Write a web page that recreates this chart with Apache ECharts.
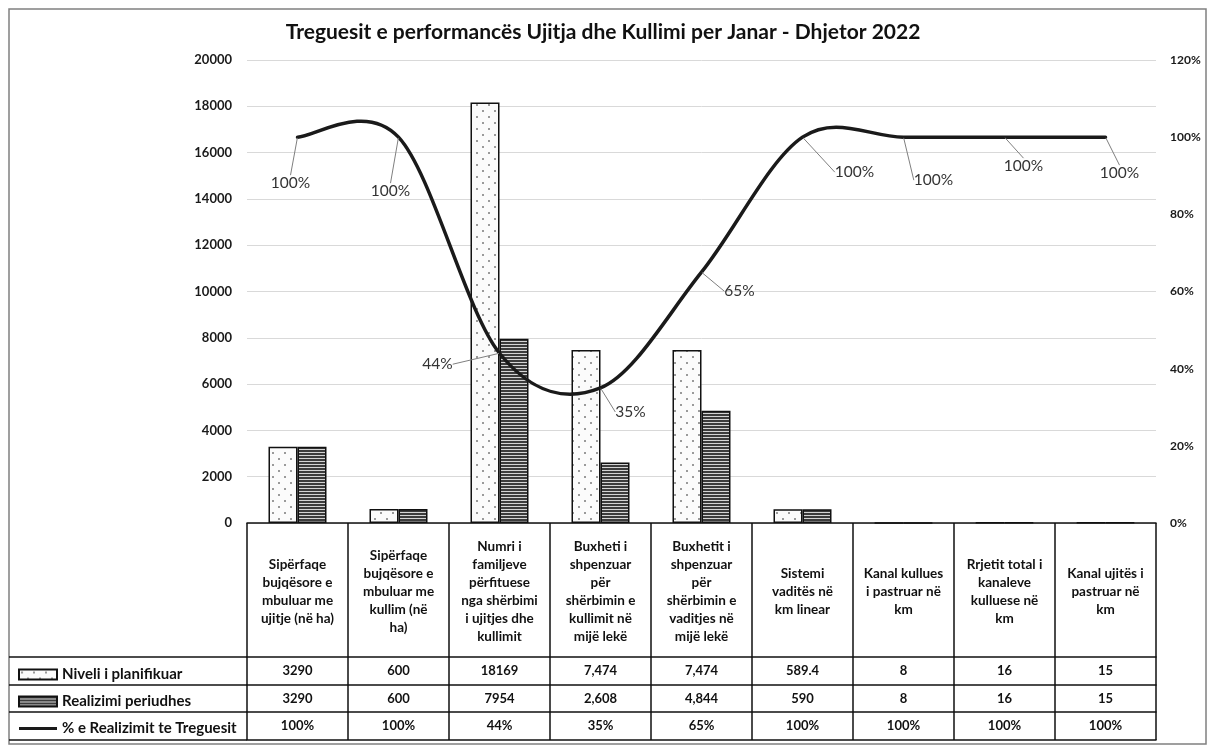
<!DOCTYPE html>
<html>
<head>
<meta charset="utf-8">
<title>Treguesit e performancës Ujitja dhe Kullimi</title>
<script src="https://cdn.jsdelivr.net/npm/echarts@6/dist/echarts.min.js"></script>
<style>
  html, body { margin: 0; padding: 0; background: #fff; }
  #chart { width: 1211px; height: 749px; }
</style>
</head>
<body>
<div id="chart"></div>
<script>
// kategoritë (rreshti i kokës së tabelës)
const categories = [
  'Sipërfaqe\nbujqësore e\nmbuluar me\nujitje (në ha)',
  'Sipërfaqe\nbujqësore e\nmbuluar me\nkullim (në\nha)',
  'Numri i\nfamiljeve\npërfituese\nnga shërbimi\ni ujitjes dhe\nkullimit',
  'Buxheti i\nshpenzuar\npër\nshërbimin e\nkullimit në\nmijë lekë',
  'Buxhetit i\nshpenzuar\npër\nshërbimin e\nvaditjes në\nmijë lekë',
  'Sistemi\nvaditës në\nkm linear',
  'Kanal kullues\ni pastruar në\nkm',
  'Rrjetit total i\nkanaleve\nkulluese në\nkm',
  'Kanal ujitës i\npastruar në\nkm'
];

const seriesNames = ['Niveli i planifikuar', 'Realizimi periudhes', '% e Realizimit te Treguesit'];

const planned = [3290, 600, 18169, 7474, 7474, 589.4, 8, 16, 15];
const realized = [3290, 600, 7954, 2608, 4844, 590, 8, 16, 15];
const pctRealized = [100, 100, 44, 35, 65, 100, 100, 100, 100];

// tekstet e tabelës së të dhënave
const plannedLabels = ['3290', '600', '18169', '7,474', '7,474', '589.4', '8', '16', '15'];
const realizedLabels = ['3290', '600', '7954', '2,608', '4,844', '590', '8', '16', '15'];
const pctLabels = pctRealized.map(v => v + '%');

// boshtet
const leftAxis = { min: 0, max: 20000, interval: 2000 };
const rightAxis = { min: 0, max: 120, interval: 20 };

const FONT = 'Lato, "Open Sans", sans-serif';

// zhvendosja e etiketave të vijës (si në Excel, me vija udhëzuese)
const labelOffsets = [
  [-7, 46], [-8, 54], [-62, 11], [30, 24], [38, 19],
  [52, 35], [30, 43], [19, 29], [14, 36]
];

function makeDots() {
  const c = document.createElement('canvas');
  c.width = 12; c.height = 12;
  const g = c.getContext('2d');
  g.fillStyle = '#fbfbfb';
  g.fillRect(0, 0, 12, 12);
  g.fillStyle = '#7a7a7a';
  g.beginPath(); g.arc(3, 3, 1, 0, Math.PI * 2); g.fill();
  g.beginPath(); g.arc(9, 9, 1, 0, Math.PI * 2); g.fill();
  return c;
}

function makeStripes() {
  const c = document.createElement('canvas');
  c.width = 4; c.height = 3;
  const g = c.getContext('2d');
  g.fillStyle = '#3c3c3c';
  g.fillRect(0, 0, 4, 2);
  g.fillStyle = '#d4d4d4';
  g.fillRect(0, 2, 4, 1);
  return c;
}

const dotFill = { image: makeDots(), repeat: 'repeat' };
const stripeFill = { image: makeStripes(), repeat: 'repeat' };

// vija e lëmuar si në Excel (Catmull-Rom), nga pikat e boshtit
function renderSmoothLine(params, api) {
  if (params.dataIndex !== 0) return null;
  const pts = pctRealized.map((v, i) => api.coord([i, v]));
  const n = pts.length;
  let d = 'M' + pts[0][0] + ' ' + pts[0][1];
  for (let i = 0; i < n - 1; i++) {
    const p0 = pts[Math.max(i - 1, 0)];
    const p1 = pts[i];
    const p2 = pts[i + 1];
    const p3 = pts[Math.min(i + 2, n - 1)];
    const c1x = p1[0] + (p2[0] - p0[0]) / 6, c1y = p1[1] + (p2[1] - p0[1]) / 6;
    const c2x = p2[0] - (p3[0] - p1[0]) / 6, c2y = p2[1] - (p3[1] - p1[1]) / 6;
    d += ' C' + c1x + ' ' + c1y + ' ' + c2x + ' ' + c2y + ' ' + p2[0] + ' ' + p2[1];
  }
  return {
    type: 'path',
    shape: { pathData: d },
    style: { fill: null, stroke: '#1a1a1a', lineWidth: 3.5, lineJoin: 'round', lineCap: 'round' }
  };
}

const chart = echarts.init(document.getElementById('chart'), null, { renderer: 'canvas' });

// rreshtat e tabelës poshtë grafikut
const tableTop = 523;
const rowLines = [134, 162, 189, 217];

function tableAxis(offset, labels) {
  return {
    type: 'category',
    gridIndex: 0,
    position: 'bottom',
    offset: offset,
    data: categories,
    axisLine: { show: true, onZero: false, lineStyle: { color: '#111', width: 1.5 } },
    axisTick: { show: false },
    axisLabel: {
      show: !!labels,
      interval: 0,
      margin: 14,
      verticalAlign: 'middle',
      color: '#111',
      fontFamily: FONT,
      fontWeight: 'bold',
      fontSize: 13,
      formatter: (v, i) => labels ? labels[i] : ''
    }
  };
}

const option = {
  backgroundColor: '#fff',
  animation: false,
  title: {
    text: 'Treguesit e performancës Ujitja dhe Kullimi per Janar - Dhjetor 2022',
    left: 598,
    textAlign: 'center',
    top: 17,
    textStyle: { fontFamily: FONT, fontWeight: 'bold', fontSize: 21, color: '#111' }
  },
  legend: {
    orient: 'vertical',
    left: 13,
    top: 661,
    itemWidth: 38,
    itemHeight: 10,
    itemGap: 10,
    selectedMode: false,
    textStyle: { fontFamily: FONT, fontWeight: 'bold', fontSize: 15, color: '#111', lineHeight: 17 },
    data: [
      { name: seriesNames[0], icon: 'rect' },
      { name: seriesNames[1], icon: 'rect' },
      { name: seriesNames[2], icon: 'path://M0,0 L40,0 L40,3 L0,3 Z', itemStyle: { color: '#1a1a1a', opacity: 1 } }
    ]
  },
  grid: { left: 247, right: 55, top: 60, bottom: 749 - tableTop, containLabel: false },
  xAxis: [
    {
      type: 'category',
      data: categories,
      axisLine: { show: true, onZero: false, lineStyle: { color: '#111', width: 1.5 } },
      axisTick: { show: true, length: rowLines[3], lineStyle: { color: '#111', width: 1.5 } },
      axisLabel: {
        interval: 0,
        margin: 69,
        verticalAlign: 'middle',
        lineHeight: 18,
        color: '#111',
        fontFamily: FONT,
        fontWeight: 'bold',
        fontSize: 13.5
      }
    },
    tableAxis(rowLines[0], plannedLabels),
    tableAxis(rowLines[1], realizedLabels),
    tableAxis(rowLines[2], pctLabels),
    tableAxis(rowLines[3], null)
  ],
  yAxis: [
    {
      type: 'value',
      min: leftAxis.min, max: leftAxis.max, interval: leftAxis.interval,
      axisLine: { show: false },
      axisTick: { show: false },
      axisLabel: { margin: 15, color: '#1a1a1a', fontFamily: FONT, fontWeight: 'bold', fontSize: 13, formatter: v => String(v) },
      splitLine: { lineStyle: { color: '#d9d9d9', width: 1 } }
    },
    {
      type: 'value',
      position: 'right',
      min: rightAxis.min, max: rightAxis.max, interval: rightAxis.interval,
      axisLine: { show: false },
      axisTick: { show: false },
      axisLabel: { margin: 14, color: '#1a1a1a', fontFamily: FONT, fontWeight: 'bold', fontSize: 12, formatter: '{value}%' },
      splitLine: { show: false }
    }
  ],
  series: [
    {
      name: seriesNames[0],
      type: 'bar',
      data: planned,
      barWidth: 29,
      barGap: '0%',
      itemStyle: { color: dotFill, borderColor: '#111', borderWidth: 1.5 }
    },
    {
      name: seriesNames[1],
      type: 'bar',
      data: realized,
      barWidth: 29,
      itemStyle: { color: stripeFill, borderColor: '#111', borderWidth: 1.5 }
    },
    {
      // vija e dukshme
      name: seriesNames[2],
      type: 'custom',
      yAxisIndex: 1,
      z: 5,
      data: pctRealized.map((v, i) => [i, v]),
      renderItem: renderSmoothLine,
      itemStyle: { color: '#1a1a1a' },
      silent: true
    },
    {
      // etiketat e përqindjeve me vija udhëzuese
      name: seriesNames[2],
      type: 'line',
      yAxisIndex: 1,
      data: pctRealized,
      symbol: 'circle',
      symbolSize: 1,
      z: 6,
      itemStyle: { color: '#1a1a1a' },
      lineStyle: { width: 0, opacity: 0 },
      label: {
        show: true,
        position: 'inside',
        formatter: '{c}%',
        color: '#333',
        fontFamily: FONT,
        fontSize: 15.5
      },
      labelLine: { show: true, lineStyle: { color: '#7f7f7f', width: 1 } },
      labelLayout: (p) => ({ dx: labelOffsets[p.dataIndex][0], dy: labelOffsets[p.dataIndex][1] })
    }
  ],
  graphic: [
    // korniza e jashtme
    { type: 'rect', shape: { x: 9, y: 9, width: 1197, height: 735 }, style: { fill: null, stroke: '#808080', lineWidth: 1.5 }, silent: true },
    // vijat e kolonës së majtë të tabelës
    { type: 'line', shape: { x1: 9, y1: tableTop + rowLines[0], x2: 247, y2: tableTop + rowLines[0] }, style: { stroke: '#111', lineWidth: 1.5 }, silent: true },
    { type: 'line', shape: { x1: 9, y1: tableTop + rowLines[1], x2: 247, y2: tableTop + rowLines[1] }, style: { stroke: '#111', lineWidth: 1.5 }, silent: true },
    { type: 'line', shape: { x1: 9, y1: tableTop + rowLines[2], x2: 247, y2: tableTop + rowLines[2] }, style: { stroke: '#111', lineWidth: 1.5 }, silent: true },
    { type: 'line', shape: { x1: 9, y1: tableTop + rowLines[3], x2: 247, y2: tableTop + rowLines[3] }, style: { stroke: '#111', lineWidth: 1.5 }, silent: true }
  ]
};

chart.setOption(option);
</script>
</body>
</html>
